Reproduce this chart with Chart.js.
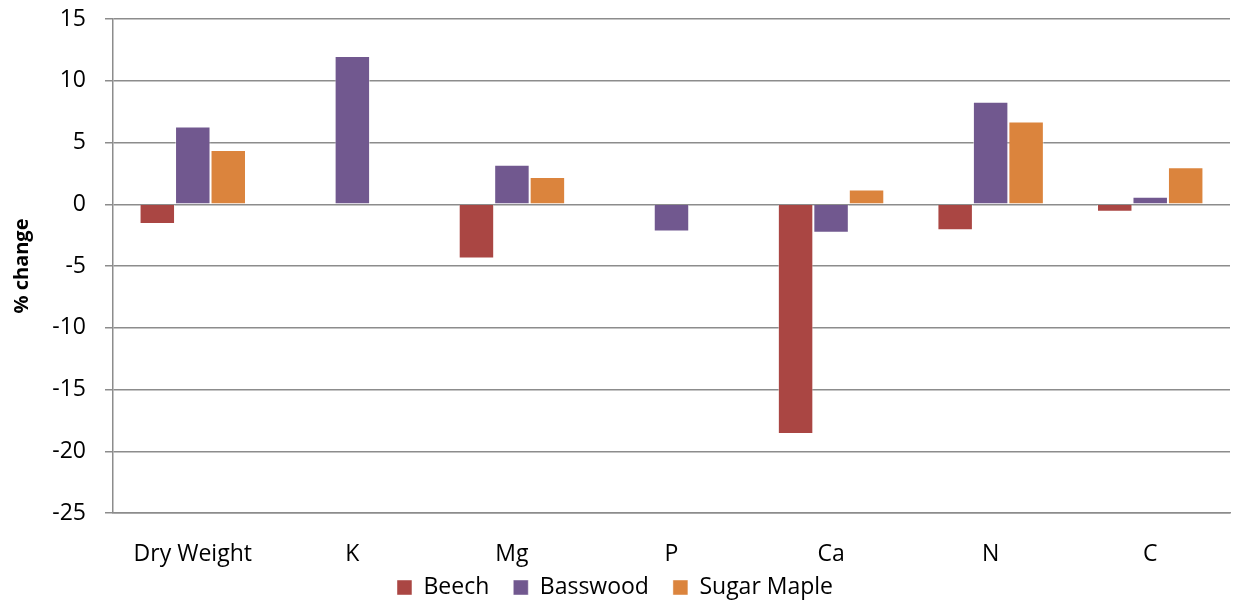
<!DOCTYPE html>
<html>
<head>
<meta charset="utf-8">
<script src="https://cdn.jsdelivr.net/npm/chart.js@4/dist/chart.umd.min.js"></script>
<style>
  html, body { margin: 0; padding: 0; background: #fff; }
  #wrap { width: 1236px; height: 601px; position: relative; }
</style>
</head>
<body>
<div id="wrap"><canvas id="myChart"></canvas></div>
<script>
// Donnees du graphique
const categories = ['Dry Weight', 'K', 'Mg', 'P', 'Ca', 'N', 'C'];
const beech = [-1.6, 0, -4.4, 0, -18.6, -2.1, -0.6];
const basswood = [6.3, 12.0, 3.2, -2.2, -2.3, 8.3, 0.6];
const sugarMaple = [4.4, 0, 2.2, 0, 1.2, 6.7, 3.0];
const yTicks = [15, 10, 5, 0, -5, -10, -15, -20, -25];

const fontFamily = "'Open Sans', 'Liberation Sans', sans-serif";
const fontSize = 23;
const gridColor = '#8c8c8c';

const ctx = document.getElementById('myChart');

// the x labels sit partly over the legend box; widen their clip area after layout
const labelRoom = {
    id: 'labelRoom',
    afterLayout: chart => {
        chart.scales.x.bottom = chart.height;
    }
};

new Chart(ctx, {
    type: 'bar',
    data: {
        labels: categories,
        datasets: [
            { label: 'Beech', data: beech, backgroundColor: '#AA4643' },
            { label: 'Basswood', data: basswood, backgroundColor: '#71588F' },
            { label: 'Sugar Maple', data: sugarMaple, backgroundColor: '#DB843D' }
        ].map(ds => Object.assign(ds, {
            borderColor: 'rgba(255,255,255,0.45)',
            borderWidth: 1,
            categoryPercentage: 0.667,
            barPercentage: 1.0
        }))
    },
    plugins: [labelRoom],
    options: {
        responsive: true,
        maintainAspectRatio: false,
        animation: false,
        layout: {
            padding: { top: 19, right: 6, left: 0, bottom: -8 }
        },
        plugins: {
            legend: {
                position: 'bottom',
                labels: {
                    color: '#000',
                    font: { family: fontFamily, size: fontSize },
                    boxWidth: 15,
                    boxHeight: 15,
                    padding: 24
                }
            },
            tooltip: { enabled: false }
        },
        scales: {
            x: {
                grid: { display: false, drawTicks: false },
                border: { display: true, color: gridColor, width: 1.5 },
                afterFit: scale => {
                    scale.height = 39;
                },
                ticks: {
                    color: '#000',
                    font: { family: fontFamily, size: fontSize },
                    padding: 28,
                    maxRotation: 0
                }
            },
            y: {
                min: -25,
                max: 15,
                afterBuildTicks: scale => {
                    scale.ticks = yTicks.map(v => ({ value: v }));
                },
                afterFit: scale => {
                    scale.width = 113;
                    // keep the tick padding from pushing the plot area down
                    scale.paddingTop = 12;
                    scale.paddingBottom = 12;
                },
                grid: {
                    color: gridColor,
                    lineWidth: 1.5,
                    drawTicks: true,
                    tickLength: 8,
                    tickColor: gridColor
                },
                border: { display: true, color: gridColor, width: 1.5 },
                ticks: {
                    color: '#000',
                    font: { family: fontFamily, size: fontSize },
                    padding: 19
                },
                title: {
                    display: true,
                    text: '% change',
                    color: '#000',
                    font: { family: fontFamily, size: 20, weight: 'bold' },
                    padding: { top: 10, bottom: 0 }
                }
            }
        }
    }
});
</script>
</body>
</html>
